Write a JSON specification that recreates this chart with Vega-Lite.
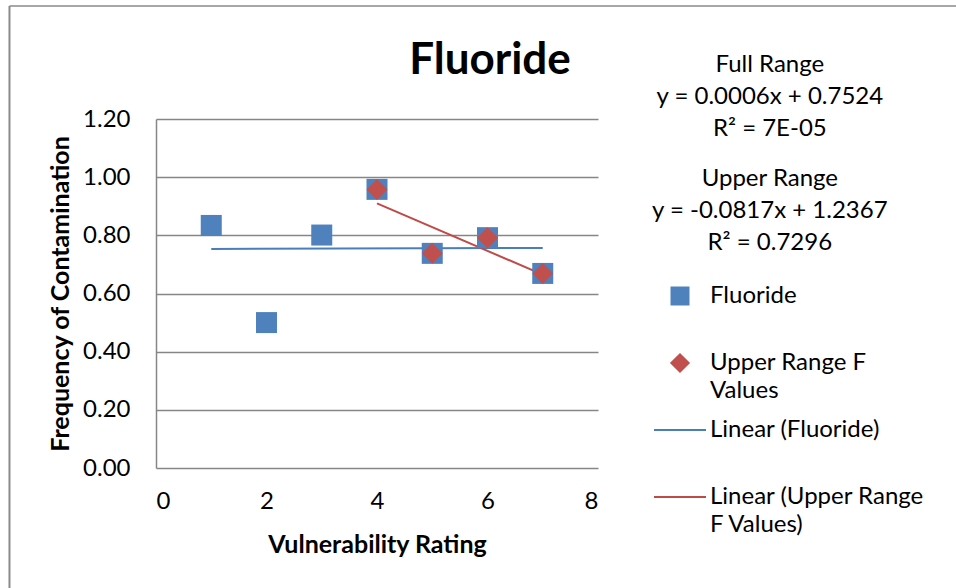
{
  "$schema": "https://vega.github.io/schema/vega-lite/v6.json",
  "autosize": "none",
  "width": 442,
  "height": 349,
  "padding": {"left": 156, "top": 119, "right": 358, "bottom": 120},
  "background": "white",
  "config": {
    "view": {"stroke": null},
    "font": "Lato",
    "axis": {"labelFont": "Lato", "titleFont": "Lato", "labelColor": "#000000", "titleColor": "#000000"}
  },
  "title": {"text": "Fluoride", "font": "Lato", "fontSize": 44, "fontWeight": "bold", "color": "#000000", "anchor": "middle", "dx": 113, "baseline": "alphabetic", "offset": -113},
  "datasets": {
    "points": [
      {"x": 1, "y": 0.834, "series": "Fluoride"},
      {"x": 2, "y": 0.5, "series": "Fluoride"},
      {"x": 3, "y": 0.801, "series": "Fluoride"},
      {"x": 4, "y": 0.958, "series": "Fluoride"},
      {"x": 5, "y": 0.738, "series": "Fluoride"},
      {"x": 6, "y": 0.792, "series": "Fluoride"},
      {"x": 7, "y": 0.669, "series": "Fluoride"},
      {"x": 4, "y": 0.958, "series": "Upper Range F Values"},
      {"x": 5, "y": 0.738, "series": "Upper Range F Values"},
      {"x": 6, "y": 0.792, "series": "Upper Range F Values"},
      {"x": 7, "y": 0.669, "series": "Upper Range F Values"}
    ],
    "trends": [
      {"x": 1, "y": 0.753, "series": "Linear (Fluoride)"},
      {"x": 7, "y": 0.7566, "series": "Linear (Fluoride)"},
      {"x": 4, "y": 0.9099, "series": "Linear (Upper Range F Values)"},
      {"x": 7, "y": 0.6648, "series": "Linear (Upper Range F Values)"}
    ]
  },
  "layer": [
    {
      "data": {"values": [{}]},
      "mark": {"type": "rule", "color": "#8a8a8a", "strokeWidth": 1.5, "clip": false},
      "encoding": {
        "x": {"datum": -2.652, "type": "quantitative"},
        "y": {"datum": 1.5885, "type": "quantitative"},
        "x2": {"datum": 16},
        "y2": {"datum": 1.5885}
      }
    },
    {
      "data": {"values": [{}]},
      "mark": {"type": "rule", "color": "#8a8a8a", "strokeWidth": 2, "clip": false},
      "encoding": {
        "x": {"datum": -2.652, "type": "quantitative"},
        "y": {"datum": 1.5885, "type": "quantitative"},
        "x2": {"datum": -2.652},
        "y2": {"datum": -1}
      }
    },
    {
      "data": {"name": "trends"},
      "mark": {"type": "line", "strokeWidth": 2},
      "encoding": {
        "x": {"field": "x", "type": "quantitative"},
        "y": {"field": "y", "type": "quantitative"},
        "color": {"field": "series", "type": "nominal"}
      }
    },
    {
      "data": {"name": "points"},
      "mark": {"type": "point", "filled": true, "opacity": 1},
      "encoding": {
        "x": {
          "field": "x", "type": "quantitative",
          "scale": {"domain": [0, 8], "nice": false, "zero": false},
          "axis": {
            "values": [0, 2, 4, 6, 8], "format": "d", "grid": false, "domain": false, "ticks": false,
            "labelFontSize": 24, "labelPadding": 21,
            "title": "Vulnerability Rating", "titleFontSize": 25, "titleFontWeight": "bold", "titlePadding": 19
          }
        },
        "y": {
          "field": "y", "type": "quantitative",
          "scale": {"domain": [0, 1.2], "nice": false},
          "axis": {
            "values": [0, 0.2, 0.4, 0.6, 0.8, 1.0, 1.2], "format": ".2f",
            "grid": true, "gridColor": "#868686", "gridWidth": 1.5, "gridOpacity": 1,
            "domain": true, "domainColor": "#868686", "domainWidth": 1.5,
            "ticks": false, "labelFontSize": 24, "labelPadding": 26,
            "title": "Frequency of Contamination", "titleFontSize": 25, "titleFontWeight": "bold", "titlePadding": 9
          }
        },
        "color": {
          "field": "series", "type": "nominal",
          "scale": {
            "domain": ["Fluoride", "Upper Range F Values", "Linear (Fluoride)", "Linear (Upper Range F Values)"],
            "range": ["#4F81BD", "#C0504D", "#4A7EBB", "#BE4B48"]
          },
          "legend": {
            "title": null,
            "orient": "none",
            "legendX": 497,
            "legendY": 150,
            "symbolSize": 2704,
            "symbolOpacity": 1,
            "labelOffset": 3,
            "labelFont": "Lato",
            "labelFontSize": 24,
            "labelColor": "#000000",
            "labelLimit": 400,
            "rowPadding": 0,
            "labelExpr": "datum.label == 'Upper Range F Values' ? ['Upper Range F', 'Values'] : datum.label == 'Linear (Upper Range F Values)' ? ['Linear (Upper Range', 'F Values)'] : [datum.label, '']",
            "encode": {
              "symbols": {
                "update": {
                  "shape": {"signal": "datum.value == 'Fluoride' ? 'square' : datum.value == 'Upper Range F Values' ? 'diamond' : 'stroke'"},
                  "size": {"signal": "datum.value == 'Fluoride' ? 289 : datum.value == 'Upper Range F Values' ? 300 : 2704"},
                  "fill": {"signal": "datum.value == 'Fluoride' ? '#4F81BD' : datum.value == 'Upper Range F Values' ? '#C0504D' : 'transparent'"},
                  "stroke": {"signal": "datum.value == 'Linear (Fluoride)' ? '#4A7EBB' : datum.value == 'Linear (Upper Range F Values)' ? '#BE4B48' : 'transparent'"},
                  "strokeWidth": {"value": 2},
                  "opacity": {"value": 1}
                }
              },
              "labels": {
                "update": {
                  "lineHeight": {"value": 28}
                }
              }
            }
          }
        },
        "shape": {
          "field": "series", "type": "nominal",
          "scale": {"domain": ["Fluoride", "Upper Range F Values"], "range": ["square", "diamond"]},
          "legend": null
        },
        "size": {"value": 441}
      }
    },
    {
      "data": {"values": [{"t": "Full Range\ny = 0.0006x + 0.7524\nR² = 7E-05"}]},
      "mark": {"type": "text", "lineBreak": "\n", "lineHeight": 32, "fontSize": 24, "font": "Lato", "color": "#000000", "align": "center", "baseline": "middle", "clip": false},
      "encoding": {
        "text": {"field": "t", "type": "nominal"},
        "x": {"datum": 11.11, "type": "quantitative"},
        "y": {"datum": 1.386, "type": "quantitative"}
      }
    },
    {
      "data": {"values": [{"t": "Upper Range\ny = -0.0817x + 1.2367\nR² = 0.7296"}]},
      "mark": {"type": "text", "lineBreak": "\n", "lineHeight": 32, "fontSize": 24, "font": "Lato", "color": "#000000", "align": "center", "baseline": "middle", "clip": false},
      "encoding": {
        "text": {"field": "t", "type": "nominal"},
        "x": {"datum": 11.11, "type": "quantitative"},
        "y": {"datum": 0.994, "type": "quantitative"}
      }
    }
  ]
}
